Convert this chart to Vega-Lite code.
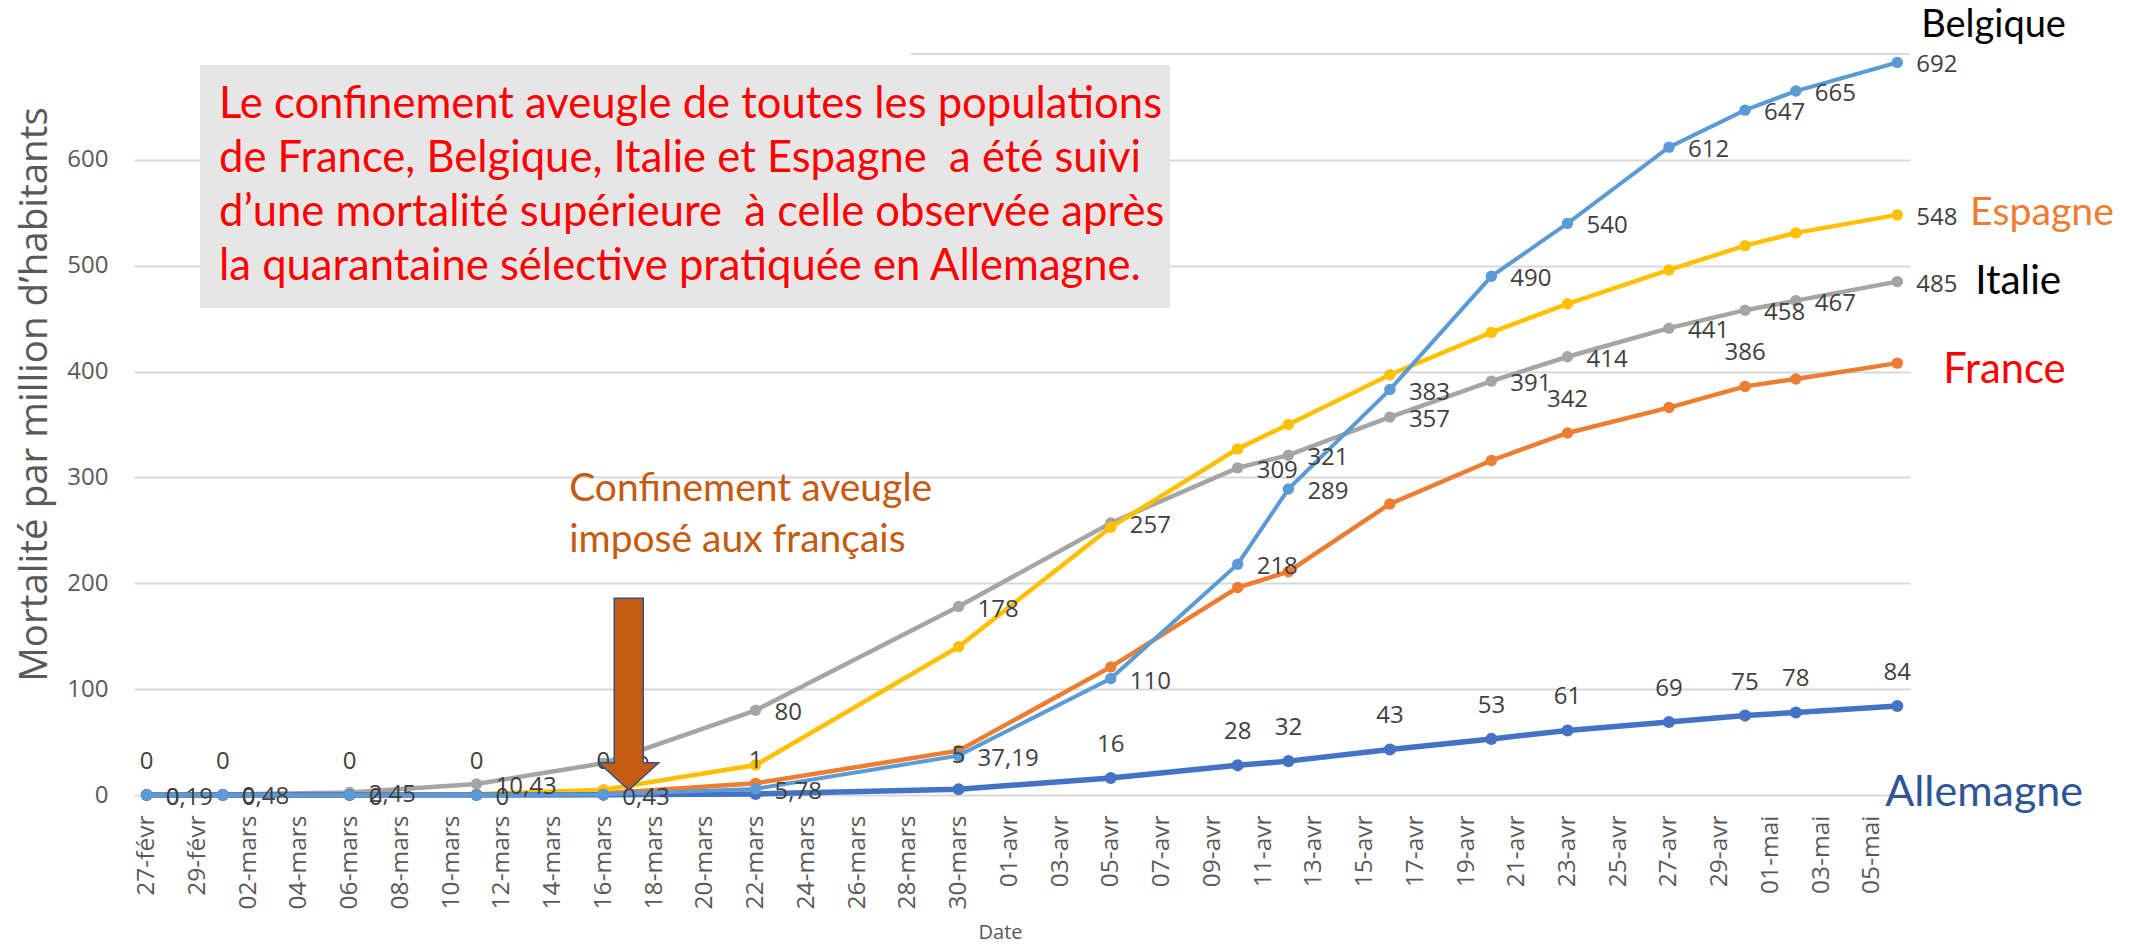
{
  "$schema": "https://vega.github.io/schema/vega-lite/v6.json",
  "autosize": "none",
  "width": 1776,
  "height": 741,
  "padding": {"left": 134, "top": 54, "right": 224, "bottom": 152},
  "background": "white",
  "config": {"view": {"stroke": null}},
  "datasets": {
    "mort": [
      {"date": "2020-02-27T00:00:00", "pays": "Italie", "val": 0.19, "lab": "0,19"},
      {"date": "2020-03-01T00:00:00", "pays": "Italie", "val": 0.48, "lab": "0,48"},
      {"date": "2020-03-06T00:00:00", "pays": "Italie", "val": 2.45, "lab": "2,45"},
      {"date": "2020-03-11T00:00:00", "pays": "Italie", "val": 10.43, "lab": "10,43"},
      {"date": "2020-03-16T00:00:00", "pays": "Italie", "val": 30, "lab": "30"},
      {"date": "2020-03-22T00:00:00", "pays": "Italie", "val": 80, "lab": "80"},
      {"date": "2020-03-30T00:00:00", "pays": "Italie", "val": 178, "lab": "178"},
      {"date": "2020-04-05T00:00:00", "pays": "Italie", "val": 257, "lab": "257"},
      {"date": "2020-04-10T00:00:00", "pays": "Italie", "val": 309, "lab": "309"},
      {"date": "2020-04-12T00:00:00", "pays": "Italie", "val": 321, "lab": "321"},
      {"date": "2020-04-16T00:00:00", "pays": "Italie", "val": 357, "lab": "357"},
      {"date": "2020-04-20T00:00:00", "pays": "Italie", "val": 391, "lab": "391"},
      {"date": "2020-04-23T00:00:00", "pays": "Italie", "val": 414, "lab": "414"},
      {"date": "2020-04-27T00:00:00", "pays": "Italie", "val": 441, "lab": "441"},
      {"date": "2020-04-30T00:00:00", "pays": "Italie", "val": 458, "lab": "458"},
      {"date": "2020-05-02T00:00:00", "pays": "Italie", "val": 467, "lab": "467"},
      {"date": "2020-05-06T00:00:00", "pays": "Italie", "val": 485, "lab": "485"},
      {"date": "2020-02-27T00:00:00", "pays": "France", "val": 0.03, "lab": ""},
      {"date": "2020-03-01T00:00:00", "pays": "France", "val": 0.03, "lab": ""},
      {"date": "2020-03-06T00:00:00", "pays": "France", "val": 0.09, "lab": ""},
      {"date": "2020-03-11T00:00:00", "pays": "France", "val": 0.49, "lab": ""},
      {"date": "2020-03-16T00:00:00", "pays": "France", "val": 1.4, "lab": ""},
      {"date": "2020-03-22T00:00:00", "pays": "France", "val": 11, "lab": ""},
      {"date": "2020-03-30T00:00:00", "pays": "France", "val": 41.9, "lab": ""},
      {"date": "2020-04-05T00:00:00", "pays": "France", "val": 121, "lab": ""},
      {"date": "2020-04-10T00:00:00", "pays": "France", "val": 196, "lab": ""},
      {"date": "2020-04-12T00:00:00", "pays": "France", "val": 211, "lab": ""},
      {"date": "2020-04-16T00:00:00", "pays": "France", "val": 275, "lab": ""},
      {"date": "2020-04-20T00:00:00", "pays": "France", "val": 316, "lab": ""},
      {"date": "2020-04-23T00:00:00", "pays": "France", "val": 342, "lab": "342"},
      {"date": "2020-04-27T00:00:00", "pays": "France", "val": 366, "lab": ""},
      {"date": "2020-04-30T00:00:00", "pays": "France", "val": 386, "lab": "386"},
      {"date": "2020-05-02T00:00:00", "pays": "France", "val": 393, "lab": ""},
      {"date": "2020-05-06T00:00:00", "pays": "France", "val": 408, "lab": ""},
      {"date": "2020-02-27T00:00:00", "pays": "Espagne", "val": 0, "lab": ""},
      {"date": "2020-03-01T00:00:00", "pays": "Espagne", "val": 0, "lab": ""},
      {"date": "2020-03-06T00:00:00", "pays": "Espagne", "val": 0.06, "lab": ""},
      {"date": "2020-03-11T00:00:00", "pays": "Espagne", "val": 0.75, "lab": ""},
      {"date": "2020-03-16T00:00:00", "pays": "Espagne", "val": 5, "lab": ""},
      {"date": "2020-03-22T00:00:00", "pays": "Espagne", "val": 28.3, "lab": ""},
      {"date": "2020-03-30T00:00:00", "pays": "Espagne", "val": 140, "lab": ""},
      {"date": "2020-04-05T00:00:00", "pays": "Espagne", "val": 253, "lab": ""},
      {"date": "2020-04-10T00:00:00", "pays": "Espagne", "val": 327, "lab": ""},
      {"date": "2020-04-12T00:00:00", "pays": "Espagne", "val": 350, "lab": ""},
      {"date": "2020-04-16T00:00:00", "pays": "Espagne", "val": 397, "lab": ""},
      {"date": "2020-04-20T00:00:00", "pays": "Espagne", "val": 437, "lab": ""},
      {"date": "2020-04-23T00:00:00", "pays": "Espagne", "val": 464, "lab": ""},
      {"date": "2020-04-27T00:00:00", "pays": "Espagne", "val": 496, "lab": ""},
      {"date": "2020-04-30T00:00:00", "pays": "Espagne", "val": 519, "lab": ""},
      {"date": "2020-05-02T00:00:00", "pays": "Espagne", "val": 531, "lab": ""},
      {"date": "2020-05-06T00:00:00", "pays": "Espagne", "val": 548, "lab": "548"},
      {"date": "2020-02-27T00:00:00", "pays": "Allemagne", "val": 0, "lab": "0"},
      {"date": "2020-03-01T00:00:00", "pays": "Allemagne", "val": 0, "lab": "0"},
      {"date": "2020-03-06T00:00:00", "pays": "Allemagne", "val": 0, "lab": "0"},
      {"date": "2020-03-11T00:00:00", "pays": "Allemagne", "val": 0, "lab": "0"},
      {"date": "2020-03-16T00:00:00", "pays": "Allemagne", "val": 0.13, "lab": "0"},
      {"date": "2020-03-22T00:00:00", "pays": "Allemagne", "val": 1, "lab": "1"},
      {"date": "2020-03-30T00:00:00", "pays": "Allemagne", "val": 5.5, "lab": "5"},
      {"date": "2020-04-05T00:00:00", "pays": "Allemagne", "val": 16, "lab": "16"},
      {"date": "2020-04-10T00:00:00", "pays": "Allemagne", "val": 28, "lab": "28"},
      {"date": "2020-04-12T00:00:00", "pays": "Allemagne", "val": 32, "lab": "32"},
      {"date": "2020-04-16T00:00:00", "pays": "Allemagne", "val": 43, "lab": "43"},
      {"date": "2020-04-20T00:00:00", "pays": "Allemagne", "val": 53, "lab": "53"},
      {"date": "2020-04-23T00:00:00", "pays": "Allemagne", "val": 61, "lab": "61"},
      {"date": "2020-04-27T00:00:00", "pays": "Allemagne", "val": 69, "lab": "69"},
      {"date": "2020-04-30T00:00:00", "pays": "Allemagne", "val": 75, "lab": "75"},
      {"date": "2020-05-02T00:00:00", "pays": "Allemagne", "val": 78, "lab": "78"},
      {"date": "2020-05-06T00:00:00", "pays": "Allemagne", "val": 84, "lab": "84"},
      {"date": "2020-02-27T00:00:00", "pays": "Belgique", "val": 0, "lab": "0"},
      {"date": "2020-03-01T00:00:00", "pays": "Belgique", "val": 0, "lab": "0"},
      {"date": "2020-03-06T00:00:00", "pays": "Belgique", "val": 0, "lab": "0"},
      {"date": "2020-03-11T00:00:00", "pays": "Belgique", "val": 0, "lab": "0"},
      {"date": "2020-03-16T00:00:00", "pays": "Belgique", "val": 0.43, "lab": "0,43"},
      {"date": "2020-03-22T00:00:00", "pays": "Belgique", "val": 5.78, "lab": "5,78"},
      {"date": "2020-03-30T00:00:00", "pays": "Belgique", "val": 37.19, "lab": "37,19"},
      {"date": "2020-04-05T00:00:00", "pays": "Belgique", "val": 110, "lab": "110"},
      {"date": "2020-04-10T00:00:00", "pays": "Belgique", "val": 218, "lab": "218"},
      {"date": "2020-04-12T00:00:00", "pays": "Belgique", "val": 289, "lab": "289"},
      {"date": "2020-04-16T00:00:00", "pays": "Belgique", "val": 383, "lab": "383"},
      {"date": "2020-04-20T00:00:00", "pays": "Belgique", "val": 490, "lab": "490"},
      {"date": "2020-04-23T00:00:00", "pays": "Belgique", "val": 540, "lab": "540"},
      {"date": "2020-04-27T00:00:00", "pays": "Belgique", "val": 612, "lab": "612"},
      {"date": "2020-04-30T00:00:00", "pays": "Belgique", "val": 647, "lab": "647"},
      {"date": "2020-05-02T00:00:00", "pays": "Belgique", "val": 665, "lab": "665"},
      {"date": "2020-05-06T00:00:00", "pays": "Belgique", "val": 692, "lab": "692"}
    ]
  },
  "data": {"name": "mort"},
  "encoding": {
    "x": {
      "field": "date", "type": "temporal",
      "scale": {"domain": [{"year": 2020, "month": 2, "date": 26, "hours": 12}, {"year": 2020, "month": 5, "date": 6, "hours": 12}]},
      "axis": {
        "values": [
          {"year": 2020, "month": 2, "date": 27}, {"year": 2020, "month": 2, "date": 29},
          {"year": 2020, "month": 3, "date": 2}, {"year": 2020, "month": 3, "date": 4}, {"year": 2020, "month": 3, "date": 6}, {"year": 2020, "month": 3, "date": 8}, {"year": 2020, "month": 3, "date": 10}, {"year": 2020, "month": 3, "date": 12}, {"year": 2020, "month": 3, "date": 14}, {"year": 2020, "month": 3, "date": 16}, {"year": 2020, "month": 3, "date": 18}, {"year": 2020, "month": 3, "date": 20}, {"year": 2020, "month": 3, "date": 22}, {"year": 2020, "month": 3, "date": 24}, {"year": 2020, "month": 3, "date": 26}, {"year": 2020, "month": 3, "date": 28}, {"year": 2020, "month": 3, "date": 30},
          {"year": 2020, "month": 4, "date": 1}, {"year": 2020, "month": 4, "date": 3}, {"year": 2020, "month": 4, "date": 5}, {"year": 2020, "month": 4, "date": 7}, {"year": 2020, "month": 4, "date": 9}, {"year": 2020, "month": 4, "date": 11}, {"year": 2020, "month": 4, "date": 13}, {"year": 2020, "month": 4, "date": 15}, {"year": 2020, "month": 4, "date": 17}, {"year": 2020, "month": 4, "date": 19}, {"year": 2020, "month": 4, "date": 21}, {"year": 2020, "month": 4, "date": 23}, {"year": 2020, "month": 4, "date": 25}, {"year": 2020, "month": 4, "date": 27}, {"year": 2020, "month": 4, "date": 29},
          {"year": 2020, "month": 5, "date": 1}, {"year": 2020, "month": 5, "date": 3}, {"year": 2020, "month": 5, "date": 5}
        ],
        "labelExpr": "timeFormat(datum.value, '%d') + '-' + ['janv','févr','mars','avr','mai','juin'][month(datum.value)]",
        "labelAngle": 270,
        "labelFont": "Open Sans",
        "labelFontSize": 24.5,
        "labelColor": "#595959",
        "labelPadding": 20,
        "labelOverlap": false,
        "labelFlush": false,
        "ticks": false,
        "domain": false,
        "grid": false,
        "title": "Date",
        "titleFont": "Open Sans",
        "titleFontSize": 20,
        "titleFontWeight": "normal",
        "titleColor": "#595959",
        "titleX": 866,
        "titleY": 127,
        "titleBaseline": "top"
      }
    },
    "y": {
      "field": "val", "type": "quantitative",
      "scale": {"domain": [0, 700], "nice": false},
      "axis": {
        "values": [0, 100, 200, 300, 400, 500, 600],
        "grid": true,
        "gridColor": "#D9D9D9",
        "gridWidth": 2,
        "domain": false,
        "ticks": false,
        "labelFont": "Open Sans",
        "labelFontSize": 24,
        "labelColor": "#595959",
        "labelPadding": 26,
        "title": "Mortalité par million d’habitants",
        "titleFont": "Open Sans",
        "titleFontSize": 38.5,
        "titleFontWeight": "normal",
        "titleColor": "#595959",
        "titlePadding": 12,
        "titleY": 340
      }
    }
  },
  "layer": [
    {
      "data": {"values": [{"date": "2020-03-28T02:30:00", "date2": "2020-05-06T12:00:00", "val": 700}]},
      "mark": {"type": "rule", "color": "#D9D9D9", "strokeWidth": 2},
      "encoding": {"x2": {"field": "date2"}}
    },
    {
      "data": {"values": [{"date": "2020-02-29T02:25:00", "date2": "2020-04-07T08:10:00", "val": 689.6, "val2": 460}]},
      "mark": {"type": "rect", "fill": "#E7E6E6"},
      "encoding": {"x2": {"field": "date2"}, "y2": {"field": "val2"}}
    },
    {
      "transform": [{"filter": "datum.pays === 'Italie'"}],
      "mark": {"type": "line", "strokeWidth": 4.5, "point": {"filled": true, "size": 130, "opacity": 1}},
      "encoding": {"color": {"field": "pays", "type": "nominal", "legend": null,
        "scale": {"domain": ["Belgique", "Espagne", "Italie", "France", "Allemagne"], "range": ["#5B9BD5", "#FFC000", "#A5A5A5", "#ED7D31", "#4472C4"]}}}
    },
    {
      "transform": [{"filter": "datum.pays === 'France'"}],
      "mark": {"type": "line", "strokeWidth": 4.5, "point": {"filled": true, "size": 130, "opacity": 1}},
      "encoding": {"color": {"field": "pays", "type": "nominal", "legend": null}}
    },
    {
      "transform": [{"filter": "datum.pays === 'Espagne'"}],
      "mark": {"type": "line", "strokeWidth": 4.5, "point": {"filled": true, "size": 130, "opacity": 1}},
      "encoding": {"color": {"field": "pays", "type": "nominal", "legend": null}}
    },
    {
      "transform": [{"filter": "datum.pays === 'Allemagne'"}],
      "mark": {"type": "line", "strokeWidth": 5.5, "point": {"filled": true, "size": 145, "opacity": 1}},
      "encoding": {"color": {"field": "pays", "type": "nominal", "legend": null}}
    },
    {
      "transform": [{"filter": "datum.pays === 'Belgique'"}],
      "mark": {"type": "line", "strokeWidth": 4, "point": {"filled": true, "size": 130, "opacity": 1}},
      "encoding": {"color": {"field": "pays", "type": "nominal", "legend": null}}
    },
    {
      "transform": [{"filter": "(datum.pays === 'Belgique' || datum.pays === 'Italie' || datum.pays === 'Espagne') && datum.lab !== ''"}],
      "mark": {"type": "text", "align": "left", "baseline": "middle", "dx": 19, "dy": 3, "font": "Open Sans", "fontSize": 24, "fill": "#404040"},
      "encoding": {"text": {"field": "lab"}}
    },
    {
      "transform": [{"filter": "(datum.pays === 'Allemagne' || datum.pays === 'France') && datum.lab !== ''"}],
      "mark": {"type": "text", "align": "center", "baseline": "middle", "dy": -33, "font": "Open Sans", "fontSize": 24, "fill": "#404040"},
      "encoding": {"text": {"field": "lab"}}
    },
    {
      "data": {"values": [{"date": "2020-02-29T20:25:00", "val": 651.8, "txt": ["Le confinement aveugle de toutes les populations", "de France, Belgique, Italie et Espagne \u00a0a été suivi", "d’une mortalité supérieure \u00a0à celle observée après", "la quarantaine sélective pratiquée en Allemagne."]}]},
      "mark": {"type": "text", "align": "left", "baseline": "middle", "lineHeight": 54, "font": "Lato", "fontSize": 43.6, "fill": "#FF0000"},
      "encoding": {"text": {"field": "txt"}}
    },
    {
      "data": {"values": [{"date": "2020-03-14T15:40:00", "val": 289.1, "txt": ["Confinement aveugle", "imposé aux français"]}]},
      "mark": {"type": "text", "align": "left", "baseline": "middle", "lineHeight": 51, "font": "Lato", "fontSize": 39, "fill": "#C55A11"},
      "encoding": {"text": {"field": "txt"}}
    },
    {
      "data": {"values": [
        {"date": "2020-05-06T22:35:00", "val": 726, "nom": "Belgique"},
        {"date": "2020-05-08T20:50:00", "val": 550, "nom": "Espagne"},
        {"date": "2020-05-09T01:40:00", "val": 485, "nom": "Italie"},
        {"date": "2020-05-07T19:25:00", "val": 401.5, "nom": "France"},
        {"date": "2020-05-05T12:30:00", "val": 2, "nom": "Allemagne"}
      ]},
      "mark": {"type": "text", "align": "left", "baseline": "middle", "font": "Lato"},
      "encoding": {
        "text": {"field": "nom"},
        "fill": {"field": "nom", "type": "nominal", "legend": null,
          "scale": {"domain": ["Belgique", "Espagne", "Italie", "France", "Allemagne"], "range": ["#000000", "#ED7D31", "#000000", "#FF0000", "#2F5597"]}},
        "size": {"field": "nom", "type": "nominal", "legend": null,
          "scale": {"domain": ["Belgique", "Espagne", "Italie", "France", "Allemagne"], "range": [38, 43, 38, 38, 43.5]}}
      }
    },
    {
      "data": {"values": [{"date": "2020-03-17T00:00:00", "val": 4.7}]},
      "mark": {"type": "point", "filled": true, "opacity": 1, "size": 40000, "fill": "#C55A11", "stroke": "#2F528F", "strokeWidth": 1.5,
        "shape": "M0,0L-0.3,-0.273L-0.145,-0.273L-0.145,-1.917L0.145,-1.917L0.145,-0.273L0.3,-0.273Z"}
    }
  ]
}
